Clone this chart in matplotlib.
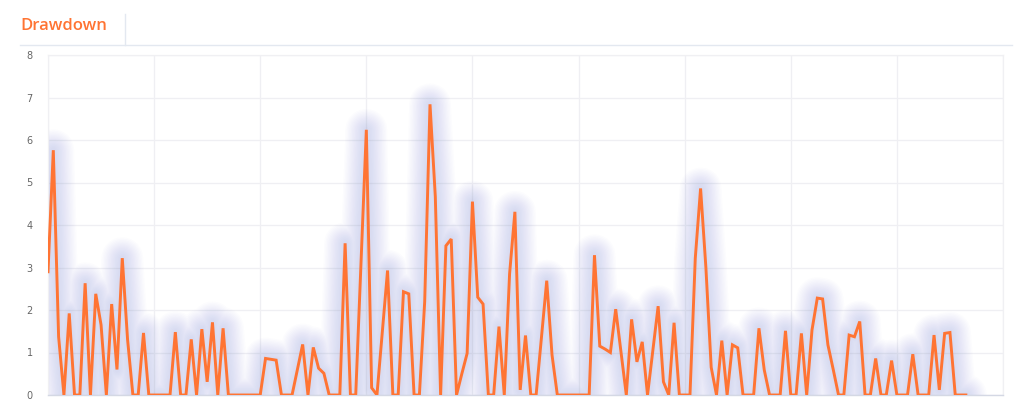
import matplotlib
matplotlib.use("Agg")
import matplotlib.pyplot as plt
from matplotlib.lines import Line2D
import numpy as np

# Drawdown values (one point per period)
drawdown = [
    2.9, 5.76, 1.37, 0, 1.92, 0, 0, 2.63, 0, 2.38,
    1.65, 0, 2.14, 0.6, 3.22, 1.3, 0, 0, 1.46, 0,
    0, 0, 0, 0, 1.48, 0, 0, 1.31, 0, 1.55,
    0.31, 1.71, 0, 1.57, 0, 0, 0, 0, 0, 0,
    0, 0.86, 0.84, 0.82, 0, 0, 0, 0.6, 1.19, 0,
    1.12, 0.63, 0.51, 0, 0, 0, 3.57, 0, 0, 3.1,
    6.24, 0.17, 0, 1.45, 2.93, 0, 0, 2.43, 2.38, 0,
    0, 2.2, 6.84, 4.67, 0, 3.51, 3.67, 0, 0.5, 0.98,
    4.55, 2.3, 2.14, 0, 0, 1.61, 0, 2.85, 4.31, 0.12,
    1.4, 0, 0, 1.35, 2.69, 0.94, 0, 0, 0, 0,
    0, 0, 0, 3.29, 1.15, 1.08, 1.0, 2.02, 1.0, 0,
    1.78, 0.78, 1.25, 0, 1.05, 2.09, 0.31, 0, 1.7, 0,
    0, 0, 3.22, 4.86, 3.0, 0.65, 0, 1.28, 0, 1.18,
    1.11, 0, 0, 0, 1.57, 0.59, 0, 0, 0, 1.51,
    0, 0, 1.45, 0, 1.53, 2.28, 2.26, 1.18, 0.6, 0,
    0, 1.41, 1.37, 1.73, 0, 0, 0.86, 0, 0, 0.81,
    0, 0, 0, 0.96, 0, 0, 0, 1.41, 0.12, 1.45,
    1.47, 0, 0, 0,
]
x_max = 180
y_ticks = [0, 1, 2, 3, 4, 5, 6, 7, 8]
title = "Drawdown"

orange = "#ff7433"
W, H = 1024, 418
fig = plt.figure(figsize=(W / 100, H / 100), dpi=100)
fig.patch.set_facecolor("white")

ax = fig.add_axes([48 / W, 1 - 395 / H, (1003 - 48) / W, (395 - 55) / H])
x = np.arange(len(drawdown))

# soft bluish glow (many faint layers for a blurred look)
for lw in np.linspace(30, 4, 14):
    ax.plot(x, drawdown, color="#8a92e2", lw=lw, alpha=0.022,
            solid_joinstyle="round", solid_capstyle="round", zorder=2)
ax.plot(x, drawdown, color=orange, lw=2.1, zorder=3,
        solid_joinstyle="miter")

ax.set_xlim(0, x_max)
ax.set_ylim(0, 8)
ax.set_yticks(y_ticks)
ax.set_yticklabels([str(t) for t in y_ticks])
ax.set_xticks(np.arange(0, x_max + 1, 20))
ax.set_xticklabels([])
ax.tick_params(axis="both", length=0)
ax.tick_params(axis="y", labelsize=7, labelcolor="#666666", pad=11)
ax.grid(True, color="#efeff3", lw=0.9, zorder=0)
ax.set_axisbelow(True)
for s in ["top", "right", "left"]:
    ax.spines[s].set_color("#f0f0f3")
    ax.spines[s].set_linewidth(0.9)
ax.spines["bottom"].set_color("#d4d8e4")
ax.spines["bottom"].set_linewidth(1.0)

# header
fig.text(20 / W, 1 - 26 / H, title, color=orange, fontsize=12,
         fontweight="semibold", family="Open Sans", va="center", ha="left")
fig.add_artist(Line2D([20 / W, 1012 / W], [1 - 45 / H, 1 - 45 / H],
                      color="#e3e8f0", lw=1.0))
fig.add_artist(Line2D([125 / W, 125 / W], [1 - 14 / H, 1 - 45 / H],
                      color="#e3e8f0", lw=1.0))

fig.savefig("out.png", dpi=100, facecolor="white")
